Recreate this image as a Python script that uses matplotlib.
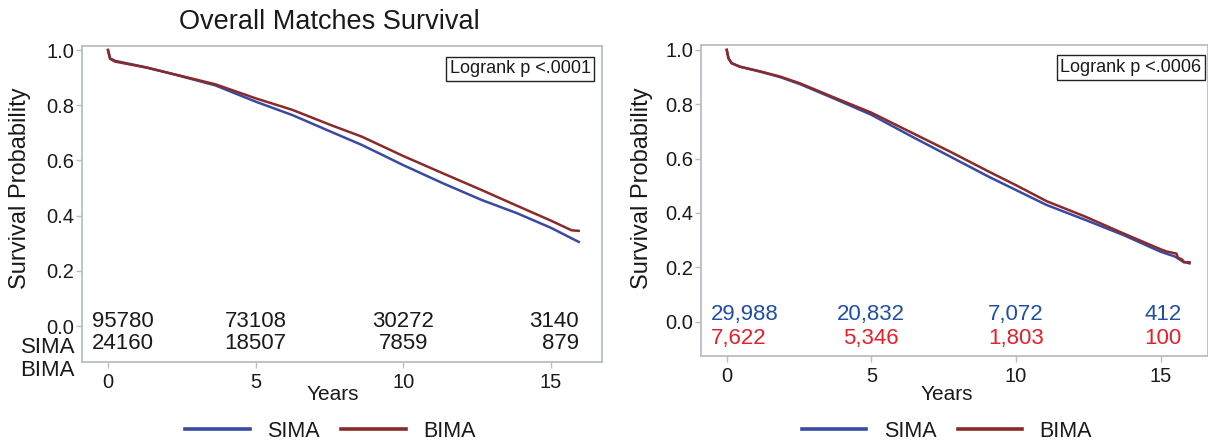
import matplotlib
matplotlib.use("Agg")
import matplotlib.pyplot as plt
from matplotlib.lines import Line2D

plt.rcParams['font.family'] = ['Liberation Sans', 'DejaVu Sans']

# ---------------- data ----------------
title_left = "Overall Matches Survival"
logrank_left = "Logrank p <.0001"
logrank_right = "Logrank p <.0006"
series_names = ["SIMA", "BIMA"]
x_ticks = [0, 5, 10, 15]
y_ticks = [0.0, 0.2, 0.4, 0.6, 0.8, 1.0]
y_ticklabels = ["0.0", "0.2", "0.4", "0.6", "0.8", "1.0"]

# Left panel survival curves
left_sima_t = [0, 0.07, 0.24, 0.63, 1.31, 2.33, 3.63, 5.0, 6.25, 7.55, 8.6, 10.0, 11.35, 12.65, 13.85, 15.0, 15.94]
left_sima_s = [1.0, 0.970, 0.961, 0.952, 0.937, 0.909, 0.872, 0.813, 0.764, 0.704, 0.656, 0.583, 0.517, 0.457, 0.409, 0.356, 0.305]
left_bima_t = [0, 0.07, 0.24, 0.63, 1.31, 2.33, 3.63, 5.0, 6.25, 7.55, 8.6, 10.0, 11.35, 12.65, 13.85, 15.0, 15.7, 15.94]
left_bima_s = [1.0, 0.968, 0.958, 0.950, 0.936, 0.910, 0.876, 0.825, 0.783, 0.728, 0.686, 0.616, 0.553, 0.493, 0.436, 0.382, 0.347, 0.345]

# Right panel survival curves
right_sima_t = [0, 0.06, 0.17, 0.46, 1.15, 1.84, 2.53, 3.73, 5.0, 6.4, 7.73, 9.06, 10.0, 11.06, 12.4, 13.7, 15.0, 15.5, 15.75, 16.0]
right_sima_s = [1.0, 0.969, 0.951, 0.938, 0.920, 0.900, 0.874, 0.820, 0.761, 0.681, 0.607, 0.533, 0.484, 0.429, 0.374, 0.319, 0.257, 0.239, 0.222, 0.214]
right_bima_t = [0, 0.06, 0.17, 0.46, 1.15, 1.84, 2.53, 3.73, 5.0, 6.4, 7.73, 9.06, 10.0, 11.06, 12.4, 13.7, 15.0, 15.2, 15.55, 15.6, 15.75, 15.8, 16.0]
right_bima_s = [1.0, 0.969, 0.951, 0.938, 0.921, 0.902, 0.877, 0.824, 0.769, 0.695, 0.625, 0.552, 0.502, 0.443, 0.386, 0.325, 0.266, 0.258, 0.250, 0.235, 0.228, 0.218, 0.218]

# Numbers at risk
risk_years = [0, 5, 10, 15]
left_risk_row1 = [95780, 73108, 30272, 3140]
left_risk_row2 = [24160, 18507, 7859, 879]
right_risk_sima = [29988, 20832, 7072, 412]
right_risk_bima = [7622, 5346, 1803, 100]

# ---------------- style ----------------
W, H = 1208, 440
SIMA_C = "#3a4aa2"
BIMA_C = "#8a2a2a"
RISK_BLUE = "#1f4fa5"
RISK_RED = "#e3202b"
FRAME_C = "#b9bdc5"
TXT = "#1a1a1a"

fig = plt.figure(figsize=(W / 100, H / 100), dpi=100)

def px_axes(l, t, r, b):
    return fig.add_axes([l / W, 1 - b / H, (r - l) / W, (b - t) / H])

axL = px_axes(82, 46, 602, 362)
axR = px_axes(700.7, 45, 1208, 356)

def style(ax, xlim, ylim):
    ax.set_xlim(*xlim)
    ax.set_ylim(*ylim)
    for sp in ax.spines.values():
        sp.set_color(FRAME_C)
        sp.set_linewidth(1.3)
    ax.set_xticks(x_ticks)
    ax.set_xticklabels([str(v) for v in x_ticks])
    ax.set_yticks(y_ticks)
    ax.set_yticklabels(y_ticklabels)
    ax.tick_params(axis='both', direction='out', length=4, width=1.0,
                   color=FRAME_C, labelcolor=TXT, labelsize=14.5)
    ax.tick_params(axis='y', pad=1.5)
    ax.tick_params(axis='x', pad=4)

style(axL, (-0.88, 16.73), (-0.130, 1.0145))
style(axR, (-0.90, 16.64), (-0.127, 1.018))

# curves
for ax, (st, ss, bt, bs) in [
    (axL, (left_sima_t, left_sima_s, left_bima_t, left_bima_s)),
    (axR, (right_sima_t, right_sima_s, right_bima_t, right_bima_s)),
]:
    ax.plot(st, ss, color=SIMA_C, lw=1.8, zorder=3, label=series_names[0])
    ax.plot(bt, bs, color=BIMA_C, lw=1.8, zorder=4, label=series_names[1])

# y labels (coords give centre of rotated label)
for ax, (lx, ly) in [(axL, (-0.119, 0.55)), (axR, (-0.1157, 0.541))]:
    ax.set_ylabel("Survival Probability", fontsize=17, color=TXT)
    ax.yaxis.set_label_coords(lx, ly)
    ax.yaxis.label.set_verticalalignment('center')

# x labels
for ax, (lx, ly) in [(axL, (0.483, -0.104)), (axR, (0.4855, -0.125))]:
    ax.set_xlabel("Years", fontsize=15, color=TXT)
    ax.xaxis.set_label_coords(lx, ly)
    ax.xaxis.label.set_verticalalignment('center')

# title
axL.set_title(title_left, fontsize=19.5, color=TXT, x=0.475, y=1.076, pad=0,
              va='center')

# logrank boxes
for ax, txt, (bx, by) in [(axL, logrank_left, (0.978, 0.955)),
                          (axR, logrank_right, (0.987, 0.955))]:
    ax.text(bx, by, txt, transform=ax.transAxes, ha='right', va='top',
            fontsize=13, color=TXT, zorder=6,
            bbox=dict(boxstyle='square,pad=0.2', fc='white', ec='#222222', lw=1.0))

# numbers at risk
def risk_rows(ax, rows, colors, ys, first_x, last_x, fmt):
    for vals, col, yv in zip(rows, colors, ys):
        for i, (yr, v) in enumerate(zip(risk_years, vals)):
            if i == 0:
                xx, ha = first_x, 'left'
            elif i == len(vals) - 1:
                xx, ha = last_x, 'right'
            else:
                xx, ha = yr, 'center'
            ax.text(xx, yv, fmt(v), ha=ha, va='center', fontsize=16,
                    color=col, zorder=5)

risk_rows(axL, [left_risk_row1, left_risk_row2], [TXT, TXT], [0.018, -0.062],
          -0.54, 15.95, lambda v: f"{v}")
risk_rows(axR, [right_risk_sima, right_risk_bima], [RISK_BLUE, RISK_RED],
          [0.024, -0.064], -0.55, 15.72, lambda v: f"{v:,}")

# left row labels (as in original figure)
fig.text(75 / W, 1 - 347 / H, series_names[0], ha='right', va='center',
         fontsize=16, color=TXT)
fig.text(75 / W, 1 - 370 / H, series_names[1], ha='right', va='center',
         fontsize=16, color=TXT)

# legends
handles = [Line2D([0], [0], color=SIMA_C, lw=2.6),
           Line2D([0], [0], color=BIMA_C, lw=2.6)]
for cx in (330.5 / W, 947 / W):
    fig.legend(handles, series_names, loc='center', bbox_to_anchor=(cx, 1 - 431 / H),
               ncol=2, frameon=False, fontsize=15.5, handlelength=3.0,
               handletextpad=0.8, columnspacing=1.0, borderpad=0.0,
               labelcolor=TXT)

fig.savefig("out.png", dpi=100)
